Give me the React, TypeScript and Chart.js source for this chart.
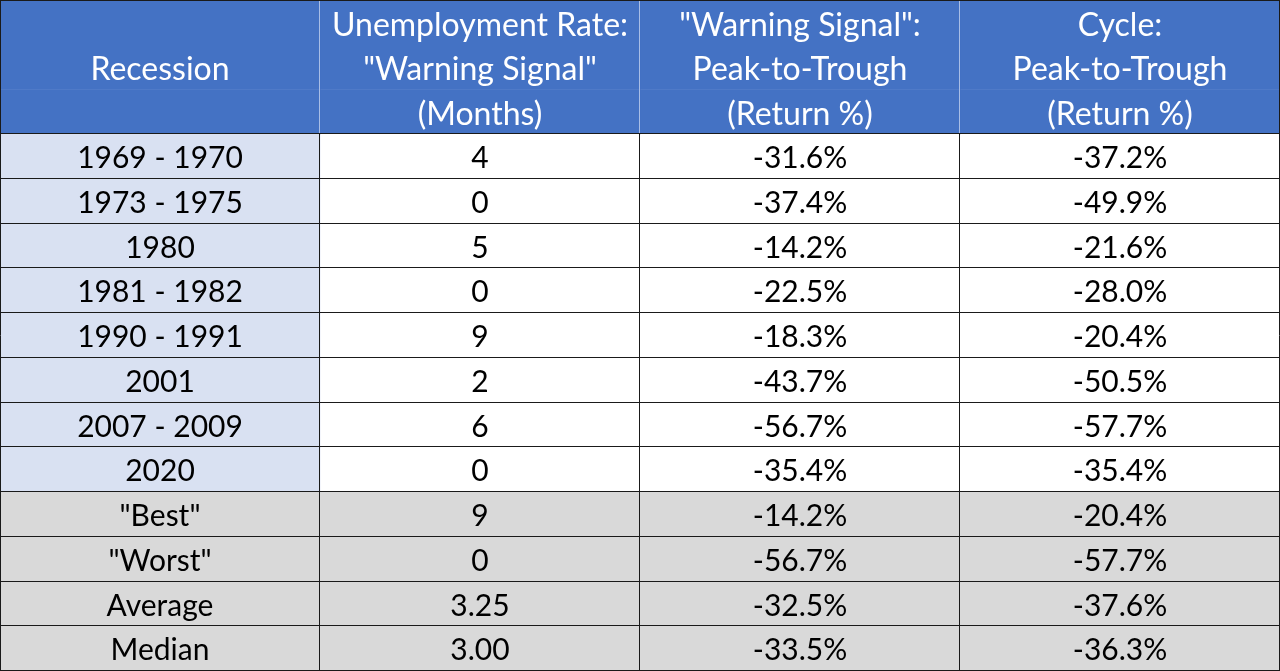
import React, { useEffect, useRef } from 'react';
import { Chart, registerables } from 'chart.js';

Chart.register(...registerables);

// ---- Data ----
const headerCol1: string[] = ['', 'Recession', ''];
const headerCol2: string[] = ['Unemployment Rate:', '"Warning Signal"', '(Months)'];
const headerCol3: string[] = ['"Warning Signal":', 'Peak-to-Trough', '(Return %)'];
const headerCol4: string[] = ['Cycle:', 'Peak-to-Trough', '(Return %)'];

const recessions: string[] = [
  '1969 - 1970', '1973 - 1975', '1980', '1981 - 1982', '1990 - 1991', '2001',
  '2007 - 2009', '2020', '"Best"', '"Worst"', 'Average', 'Median',
];
const warningMonths: string[] = ['4', '0', '5', '0', '9', '2', '6', '0', '9', '0', '3.25', '3.00'];
const warningReturn: string[] = ['-31.6%', '-37.4%', '-14.2%', '-22.5%', '-18.3%', '-43.7%', '-56.7%', '-35.4%', '-14.2%', '-56.7%', '-32.5%', '-33.5%'];
const cycleReturn: string[] = ['-37.2%', '-49.9%', '-21.6%', '-28.0%', '-20.4%', '-50.5%', '-57.7%', '-35.4%', '-20.4%', '-57.7%', '-37.6%', '-36.3%'];
const summaryRows: string[] = ['"Best"', '"Worst"', 'Average', 'Median'];
const headerRowKeys: string[] = ['header-1', 'header-2', 'header-3'];

// ---- Styles ----
const BLUE = '#4472C4';
const LIGHT_BLUE = '#D9E1F2';
const GREY = '#D9D9D9';
const WHITE = '#FFFFFF';
const LINE = '#1a1a1a';
const HEADER_SEP = '#A9BEE6';
const BODY_FONT = '30px Lato';
const HEADER_FONT = '32px Lato';

export default function App() {
  const canvasRef = useRef<HTMLCanvasElement | null>(null);

  useEffect(() => {
    const canvas = canvasRef.current;
    if (!canvas) return;
    const labels = [...headerRowKeys, ...recessions];
    const headerCols = [headerCol1, headerCol2, headerCol3, headerCol4];
    const bodyCols = [recessions, warningMonths, warningReturn, cycleReturn];
    const nHeader = headerRowKeys.length;

    const fillFor = (col: number) => (ctx: any) => {
      const i = ctx.dataIndex;
      if (i < nHeader) return BLUE;
      const name = recessions[i - nHeader];
      if (summaryRows.includes(name)) return GREY;
      if (col === 0) return LIGHT_BLUE;
      return WHITE;
    };

    const tablePlugin = {
      id: 'tableLines',
      afterDraw(chart: any) {
        const { ctx, chartArea } = chart;
        const xs = chart.scales.x;
        const ys = chart.scales.y;
        const step = ys.getPixelForValue(1) - ys.getPixelForValue(0);
        const half = step / 2;
        const W = chart.width;
        const H = chart.height;
        const al = (v: number, max: number) => Math.min(max - 0.5, Math.max(0.5, Math.round(v) - 0.5));
        const boundary = (k: number) => (k < labels.length ? ys.getPixelForValue(k) - half : ys.getPixelForValue(labels.length - 1) + half);
        const headerBottom = al(boundary(nHeader), H);

        ctx.save();
        ctx.lineWidth = 1;
        // horizontal lines
        ctx.strokeStyle = LINE;
        const hk = [0];
        for (let k = nHeader; k <= labels.length; k++) hk.push(k);
        for (const k of hk) {
          const y = al(boundary(k), H);
          ctx.beginPath();
          ctx.moveTo(chartArea.left, y);
          ctx.lineTo(chartArea.right, y);
          ctx.stroke();
        }
        // vertical lines
        for (let c = 0; c <= headerCols.length; c++) {
          const x = al(xs.getPixelForValue(c), W);
          if (c === 0 || c === headerCols.length) {
            ctx.strokeStyle = LINE;
            ctx.beginPath();
            ctx.moveTo(x, chartArea.top);
            ctx.lineTo(x, chartArea.bottom);
            ctx.stroke();
          } else {
            ctx.strokeStyle = HEADER_SEP;
            ctx.beginPath();
            ctx.moveTo(x, chartArea.top + 1);
            ctx.lineTo(x, headerBottom - 0.5);
            ctx.stroke();
            ctx.strokeStyle = LINE;
            ctx.beginPath();
            ctx.moveTo(x, headerBottom);
            ctx.lineTo(x, chartArea.bottom);
            ctx.stroke();
          }
        }
        // text
        ctx.textAlign = 'center';
        ctx.textBaseline = 'middle';
        for (let c = 0; c < headerCols.length; c++) {
          const cx = xs.getPixelForValue(c + 0.5);
          ctx.font = HEADER_FONT;
          ctx.fillStyle = WHITE;
          headerCols[c].forEach((t, r) => {
            if (t) ctx.fillText(t, cx, ys.getPixelForValue(r) + 3);
          });
          ctx.font = BODY_FONT;
          ctx.fillStyle = '#000000';
          bodyCols[c].forEach((t, r) => {
            ctx.fillText(t, cx, ys.getPixelForValue(r + nHeader) + 2);
          });
        }
        ctx.restore();
      },
    };

    const chart = new Chart(canvas, {
      type: 'bar',
      data: {
        labels,
        datasets: bodyCols.map((_, c) => ({
          label: `col${c}`,
          data: labels.map(() => 1),
          backgroundColor: fillFor(c),
          borderWidth: 0,
          barPercentage: 1,
          categoryPercentage: 1,
        })),
      },
      options: {
        indexAxis: 'y',
        responsive: false,
        animation: false,
        layout: { padding: 0 },
        scales: {
          x: { type: 'linear', stacked: true, min: 0, max: 4, display: false },
          y: { type: 'category', stacked: true, display: false },
        },
        plugins: {
          legend: { display: false },
          tooltip: { enabled: false },
        },
      },
      plugins: [tablePlugin],
    } as any);

    return () => chart.destroy();
  }, []);

  return (
    <div style={{ position: 'fixed', left: 0, top: 0, width: 1280, height: 671, background: '#fff' }}>
      <canvas ref={canvasRef} width={1280} height={671} style={{ display: 'block' }} />
    </div>
  );
}
